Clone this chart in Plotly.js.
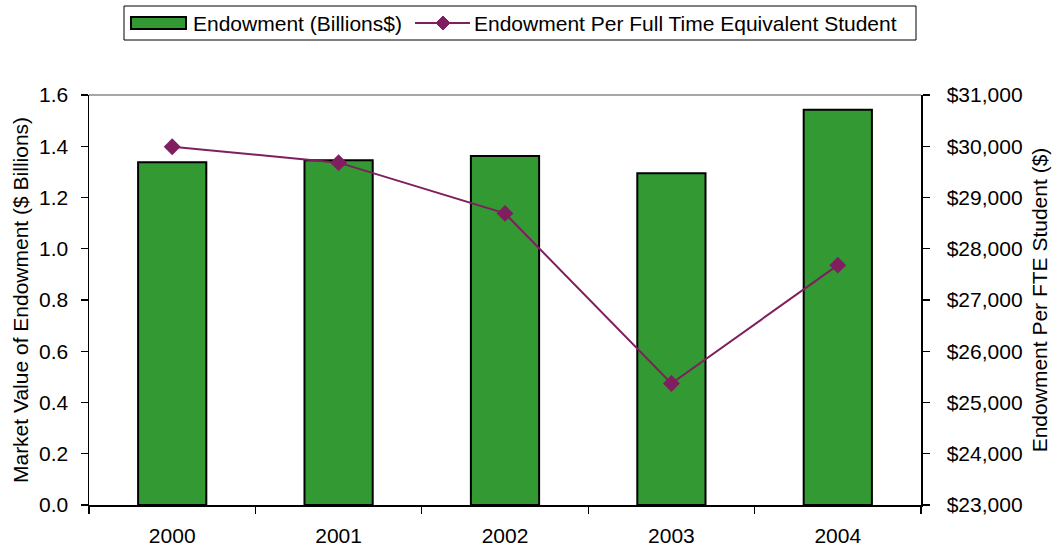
<!DOCTYPE html>
<html><head><meta charset="utf-8">
<script src="https://cdn.plot.ly/plotly-3.0.1.min.js"></script>
<style>html,body{margin:0;padding:0;background:#fff}#c{width:1057px;height:548px}</style>
</head><body><div id="c"></div>
<script>
const years = ['2000','2001','2002','2003','2004'];
const endowmentBillions = [1.338, 1.345, 1.362, 1.295, 1.542];
const endowmentPerFTE = [29990, 29680, 28690, 25370, 27680];
const leftTicks = [0, 0.2, 0.4, 0.6, 0.8, 1.0, 1.2, 1.4, 1.6];
const rightTicks = [23000, 24000, 25000, 26000, 27000, 28000, 29000, 30000, 31000];
const seriesNames = ['Endowment (Billions$)', 'Endowment Per Full Time Equivalent Student'];

const F = 'Liberation Sans, Arial, sans-serif';
const BAR = '#339933', LINE = '#7f1f5f';
// plot area in pixels: x 89..921, y 95..505
const px = x => (x - 89) / 832, py = y => (505 - y) / 410;

const traces = [
  {type:'bar', x:years, y:endowmentBillions, name:seriesNames[0],
   width:0.41, marker:{color:BAR, line:{color:'#000', width:2}}, yaxis:'y'},
  {type:'scatter', mode:'lines+markers', x:years, y:endowmentPerFTE,
   name:seriesNames[1], yaxis:'y2',
   line:{color:LINE, width:2}, marker:{symbol:'diamond', size:13, color:LINE}}
];
const dx = 7, dy = 7, cx = 443, cy = 23;
const layout = {
  width:1057, height:548, paper_bgcolor:'#fff', plot_bgcolor:'#fff',
  margin:{l:89, r:136, t:95, b:43},
  font:{family:F, size:21, color:'#000'},
  showlegend:false,
  xaxis:{type:'category', showline:true, linecolor:'#000', linewidth:1.5,
         ticks:'outside', ticklen:7, tickcolor:'#000', tickwidth:1.2, tickson:'boundaries',
         showgrid:false, zeroline:false, tickfont:{size:21}, ticklabelstandoff:11},
  yaxis:{range:[0,1.6], tickvals:leftTicks, ticktext:leftTicks.map(v=>v.toFixed(1)),
         showline:true, linecolor:'#000', linewidth:1.5, ticks:'outside', ticklen:7,
         tickwidth:1.2, tickcolor:'#000', showgrid:false, zeroline:false, ticklabelstandoff:8,
         tickfont:{size:21},
         title:{text:'Market Value of Endowment ($ Billions)', font:{size:21}, standoff:4}},
  yaxis2:{range:[23000,31000], tickvals:rightTicks,
          ticktext:rightTicks.map(v=>'$'+v.toLocaleString('en-US')),
          overlaying:'y', side:'right', showline:true, linecolor:'#000', linewidth:1.5,
          ticks:'outside', ticklen:7, tickwidth:1.2, tickcolor:'#000', showgrid:false,
          zeroline:false, ticklabelstandoff:13, tickfont:{size:21},
          title:{text:'Endowment Per FTE Student ($)', font:{size:21}, standoff:10}},
  shapes:[
    {type:'line', xref:'paper', yref:'paper', x0:0, x1:1, y0:1, y1:1, line:{color:'#888', width:1.5}},
    // manual legend
    {type:'rect', xref:'paper', yref:'paper', x0:px(124), x1:px(916), y0:py(40), y1:py(6),
     line:{color:'#000', width:1}, fillcolor:'#fff'},
    {type:'rect', xref:'paper', yref:'paper', x0:px(131), x1:px(186), y0:py(29), y1:py(17),
     line:{color:'#000', width:2}, fillcolor:BAR},
    {type:'line', xref:'paper', yref:'paper', x0:px(415), x1:px(470), y0:py(cy), y1:py(cy),
     line:{color:LINE, width:2}},
    {type:'path', xref:'paper', yref:'paper',
     path:`M ${px(cx-dx)} ${py(cy)} L ${px(cx)} ${py(cy-dy)} L ${px(cx+dx)} ${py(cy)} L ${px(cx)} ${py(cy+dy)} Z`,
     line:{color:LINE, width:1}, fillcolor:LINE}
  ],
  annotations:[
    {xref:'paper', yref:'paper', x:px(191), y:py(cy), xanchor:'left', yanchor:'middle',
     text:seriesNames[0], showarrow:false, font:{size:21}},
    {xref:'paper', yref:'paper', x:px(472), y:py(cy), xanchor:'left', yanchor:'middle',
     text:seriesNames[1], showarrow:false, font:{size:21}}
  ]
};
Plotly.newPlot('c', traces, layout, {displayModeBar:false, staticPlot:true});
</script></body></html>
